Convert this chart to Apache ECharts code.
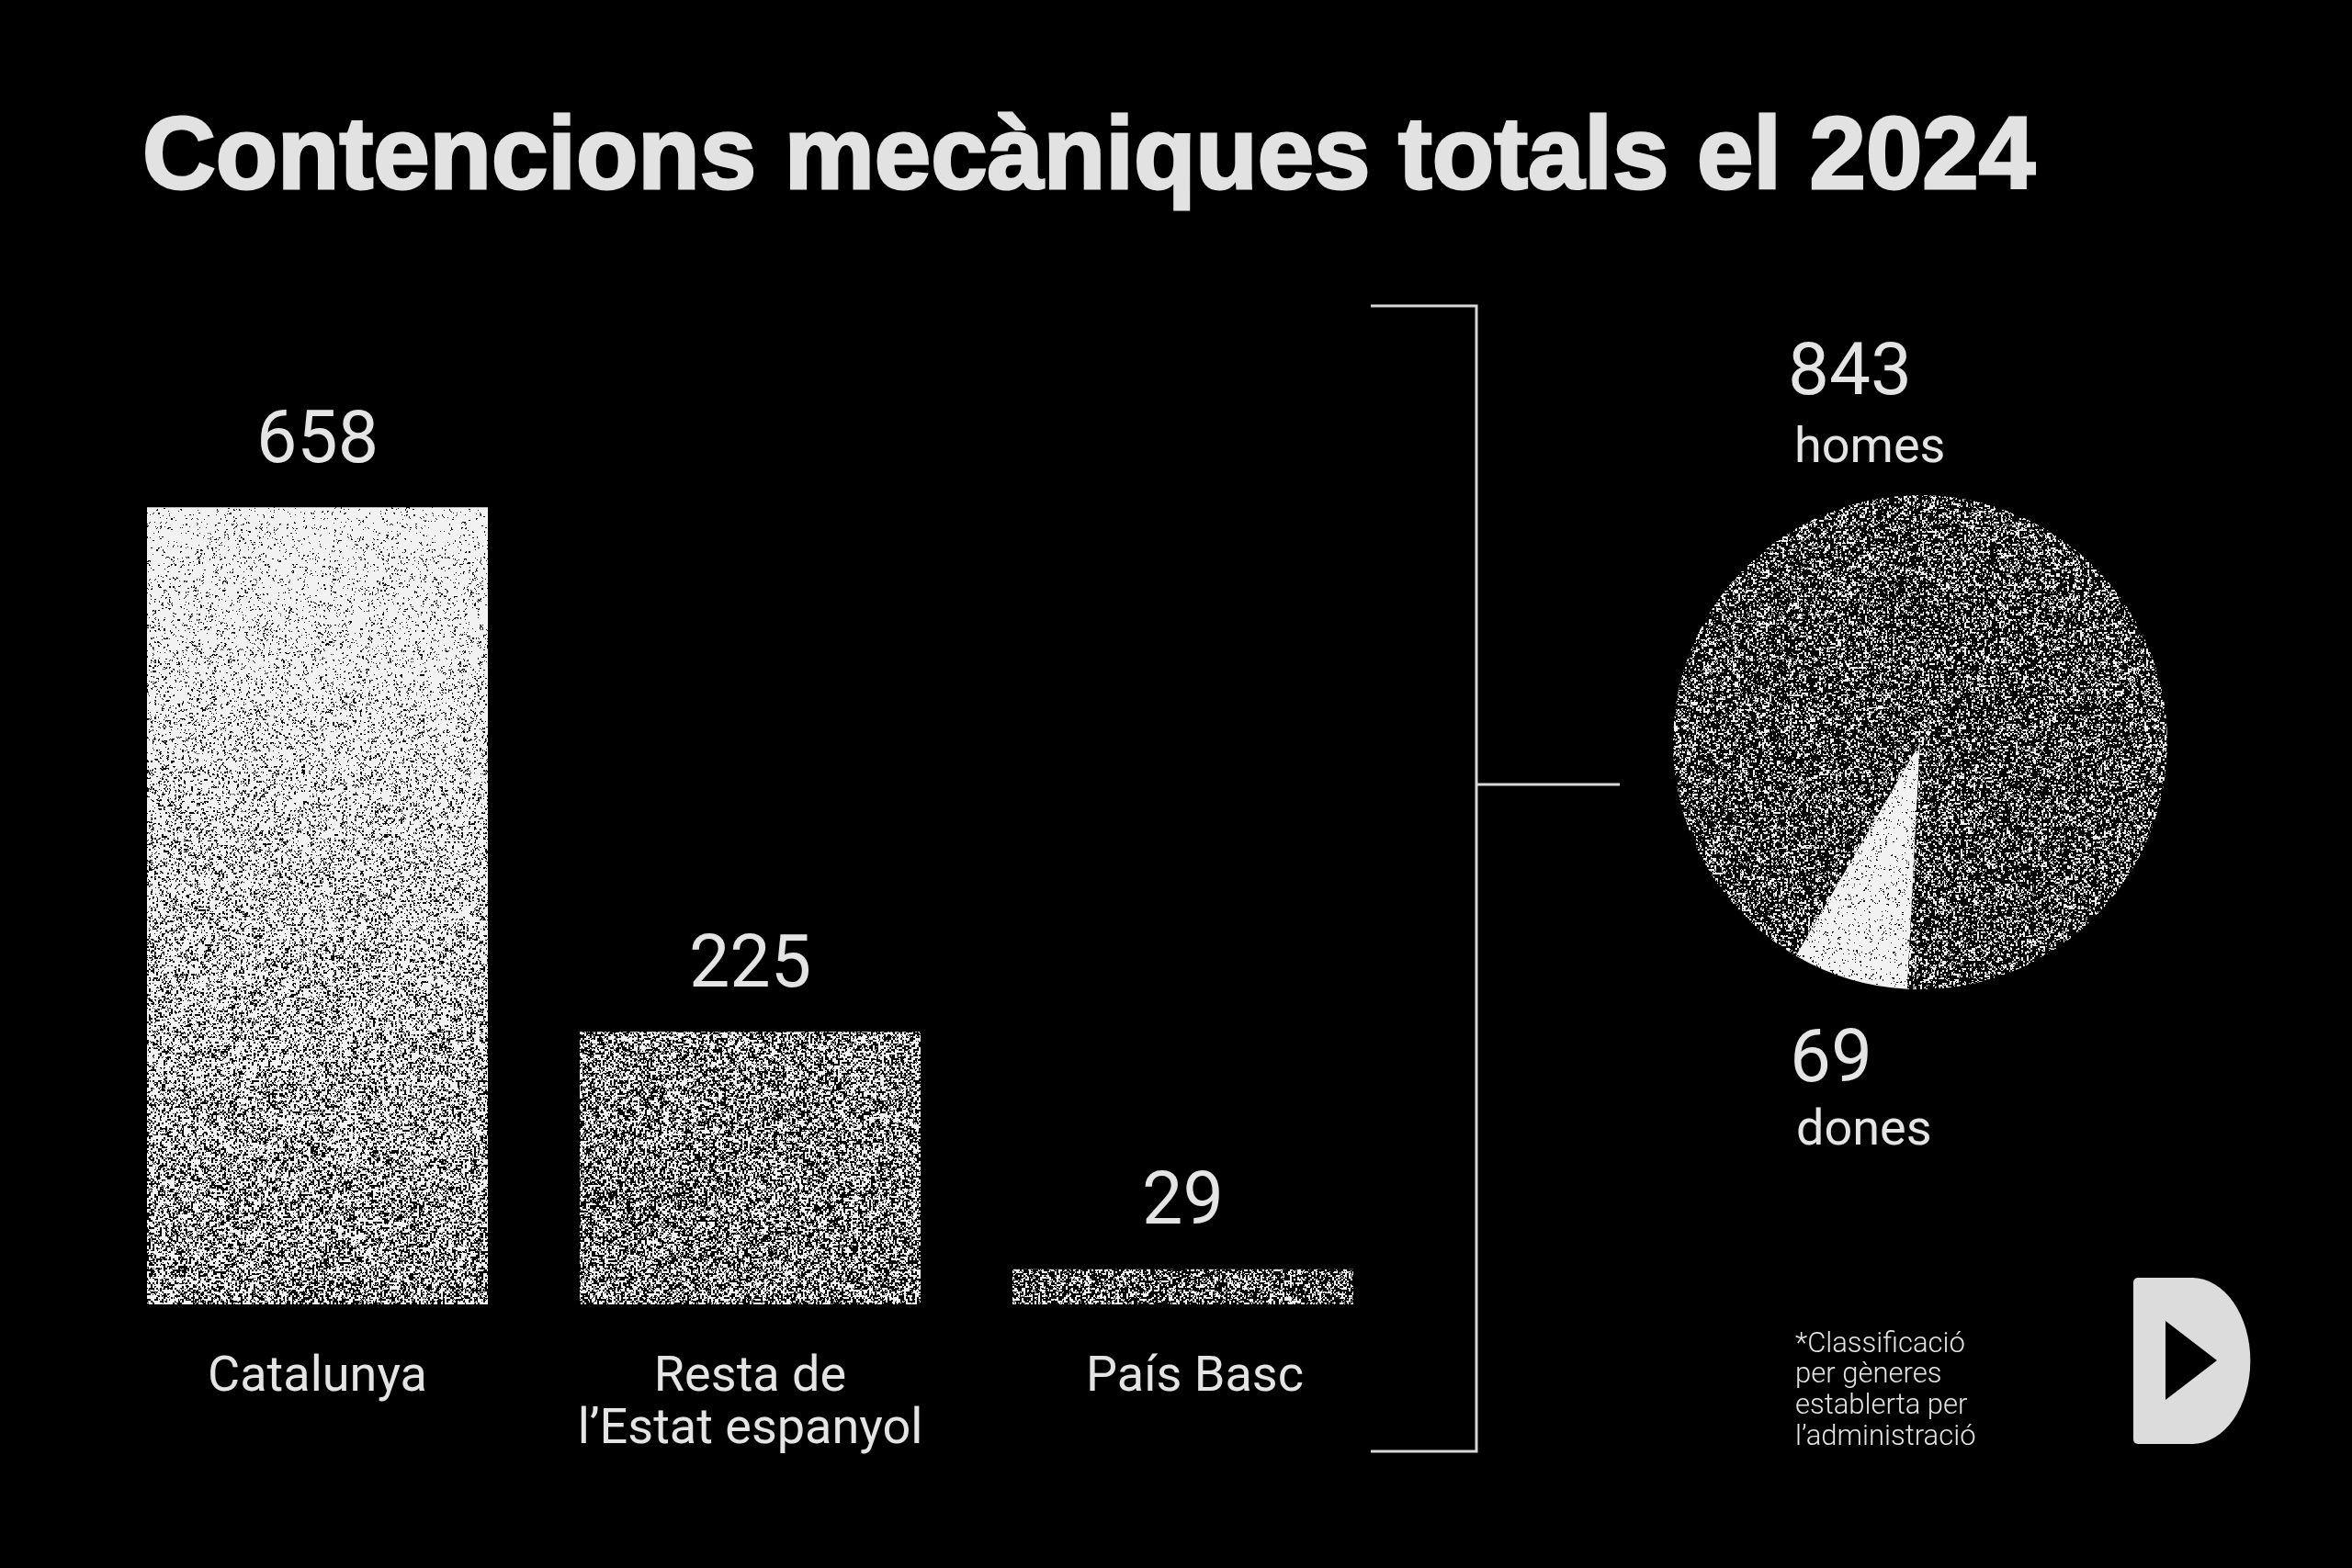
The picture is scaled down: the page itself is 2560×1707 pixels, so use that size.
<!DOCTYPE html>
<html>
<head>
<meta charset="utf-8">
<script src="https://cdn.jsdelivr.net/npm/echarts@6/dist/echarts.min.js"></script>
<style>
html,body{margin:0;padding:0;background:#000;}
#chart{width:2560px;height:1707px;}
</style>
</head>
<body>
<div id="chart"></div>
<script>
var titleText = 'Contencions mecàniques totals el 2024';
var categories = ['Catalunya', 'Resta de\nl\u2019Estat espanyol', 'País Basc'];
var barValues = [658, 225, 29];
var pieNames = ['dones', 'homes'];
var pieValues = [69, 843];
var footnote = '*Classificació\nper gèneres\nestablerta per\nl\u2019administració';

var TXT = '#e4e4e4';
var bodyFont = 'Roboto';

// grain texture (decorative fill only, deterministic hash)
function hash(x, y, s) {
  var n = (Math.imul(x, 374761393) + Math.imul(y, 668265263) + Math.imul(s, 1442695041)) | 0;
  n = Math.imul(n ^ (n >>> 13), 1274126177);
  n = n ^ (n >>> 16);
  return (n >>> 0) / 4294967296;
}
function grain(w, h, densityAt, seed) {
  var c = document.createElement('canvas');
  c.width = w; c.height = h;
  var ctx = c.getContext('2d');
  var img = ctx.createImageData(w, h);
  var d = img.data;
  for (var y = 0; y < h; y++) {
    var dens = densityAt(y);
    for (var x = 0; x < w; x++) {
      var cx = x >> 1, cy = y >> 1;
      var r = hash(cx, cy, seed) * 0.7 + hash(x, y, seed + 7) * 0.3;
      var v = r < dens ? 242 : 8;
      var i = (y * w + x) * 4;
      d[i] = d[i + 1] = d[i + 2] = v; d[i + 3] = 255;
    }
  }
  ctx.putImageData(img, 0, 0);
  return c;
}
function ramp(y0, d0, y1, d1) {
  return function (y) {
    var t = Math.max(0, Math.min(1, (y - y0) / (y1 - y0)));
    return d0 + (d1 - d0) * t;
  };
}
var barPatterns = [
  {image: grain(512, 1707, ramp(552, 0.85, 1420, 0.53), 11), repeat: 'repeat'},
  {image: grain(512, 1707, ramp(1124, 0.53, 1420, 0.49), 23), repeat: 'repeat'},
  {image: grain(512, 1707, ramp(1382, 0.43, 1420, 0.43), 37), repeat: 'repeat'}
];
var piePatterns = [
  {image: grain(512, 512, function(){return 0.84;}, 51), repeat: 'repeat'},
  {image: grain(512, 512, function(){return 0.37;}, 67), repeat: 'repeat'}
];

var chart = echarts.init(document.getElementById('chart'), null, {renderer:'canvas'});
var option = {
  backgroundColor:'#000',
  animation:false,
  grid:{left:110, right:1037, top:365, bottom:287, containLabel:false},
  xAxis:{
    type:'category', data:categories,
    axisLine:{show:false}, axisTick:{show:false}, splitLine:{show:false},
    axisLabel:{
      color:TXT, fontFamily:bodyFont, fontSize:54, lineHeight:57, margin:52, interval:0,
      formatter:function(v, i){ return i === 2 ? '{shift|' + v + '}' : v; },
      rich:{shift:{color:TXT, fontFamily:bodyFont, fontSize:54, lineHeight:57, padding:[0,0,0,26]}}
    }
  },
  yAxis:{type:'value', min:0, max:800, show:false, splitLine:{show:false}},
  series:[
    {
      type:'bar', barWidth:371,
      data: barValues.map(function(v,i){return {value:v, itemStyle:{color:barPatterns[i]}};}),
      label:{show:true, position:'top', distance:30, color:TXT, fontFamily:bodyFont, fontSize:79},
      silent:true
    },
    {
      type:'pie', center:[2090,808], radius:[0,269], startAngle:267, clockwise:true,
      label:{show:false}, labelLine:{show:false}, silent:true,
      data: pieValues.map(function(v,i){return {name:pieNames[i], value:v,
        itemStyle:{color: piePatterns[i], borderWidth:0}};})
    }
  ],
  graphic:[
    {type:'text', x:155, y:118, scaleX:0.985, style:{text:titleText, fill:'#e2e2e2', stroke:'#e2e2e2', lineWidth:3, font:'bold 112px "Liberation Sans"'}},
    {type:'polyline', shape:{points:[[1492,333],[1607,333],[1607,1580],[1492,1580]]}, style:{stroke:'#d8d8d8', lineWidth:3, fill:null}},
    {type:'line', shape:{x1:1607,y1:854,x2:1763,y2:854}, style:{stroke:'#d8d8d8', lineWidth:3}},
    {type:'text', x:1946, y:449, style:{text:String(pieValues[1]), fill:TXT, font:'80px '+bodyFont, textVerticalAlign:'bottom'}},
    {type:'text', x:1953, y:516, style:{text:pieNames[1], fill:TXT, font:'54px '+bodyFont, textVerticalAlign:'bottom'}},
    {type:'text', x:1948, y:1197, style:{text:String(pieValues[0]), fill:TXT, font:'80px '+bodyFont, textVerticalAlign:'bottom'}},
    {type:'text', x:1955, y:1259, style:{text:pieNames[0], fill:TXT, font:'54px '+bodyFont, textVerticalAlign:'bottom'}},
    {type:'text', x:1954, y:1447, style:{text:footnote, fill:TXT, font:'300 31px '+bodyFont, lineHeight:33.8}},
    {type:'rect', shape:{x:2322, y:1391, width:66, height:181, r:[5,0,0,5]}, style:{fill:'#dcdcdc'}},
    {type:'sector', x:2386, y:1481.5, scaleX:0.7, shape:{cx:0, cy:0, r0:0, r:90.5, startAngle:-Math.PI/2, endAngle:Math.PI/2}, style:{fill:'#dcdcdc'}},
    {type:'polygon', shape:{points:[[2357,1438],[2413,1481],[2357,1524]]}, style:{fill:'#000'}}
  ]
};
chart.setOption(option);
</script>
</body>
</html>
